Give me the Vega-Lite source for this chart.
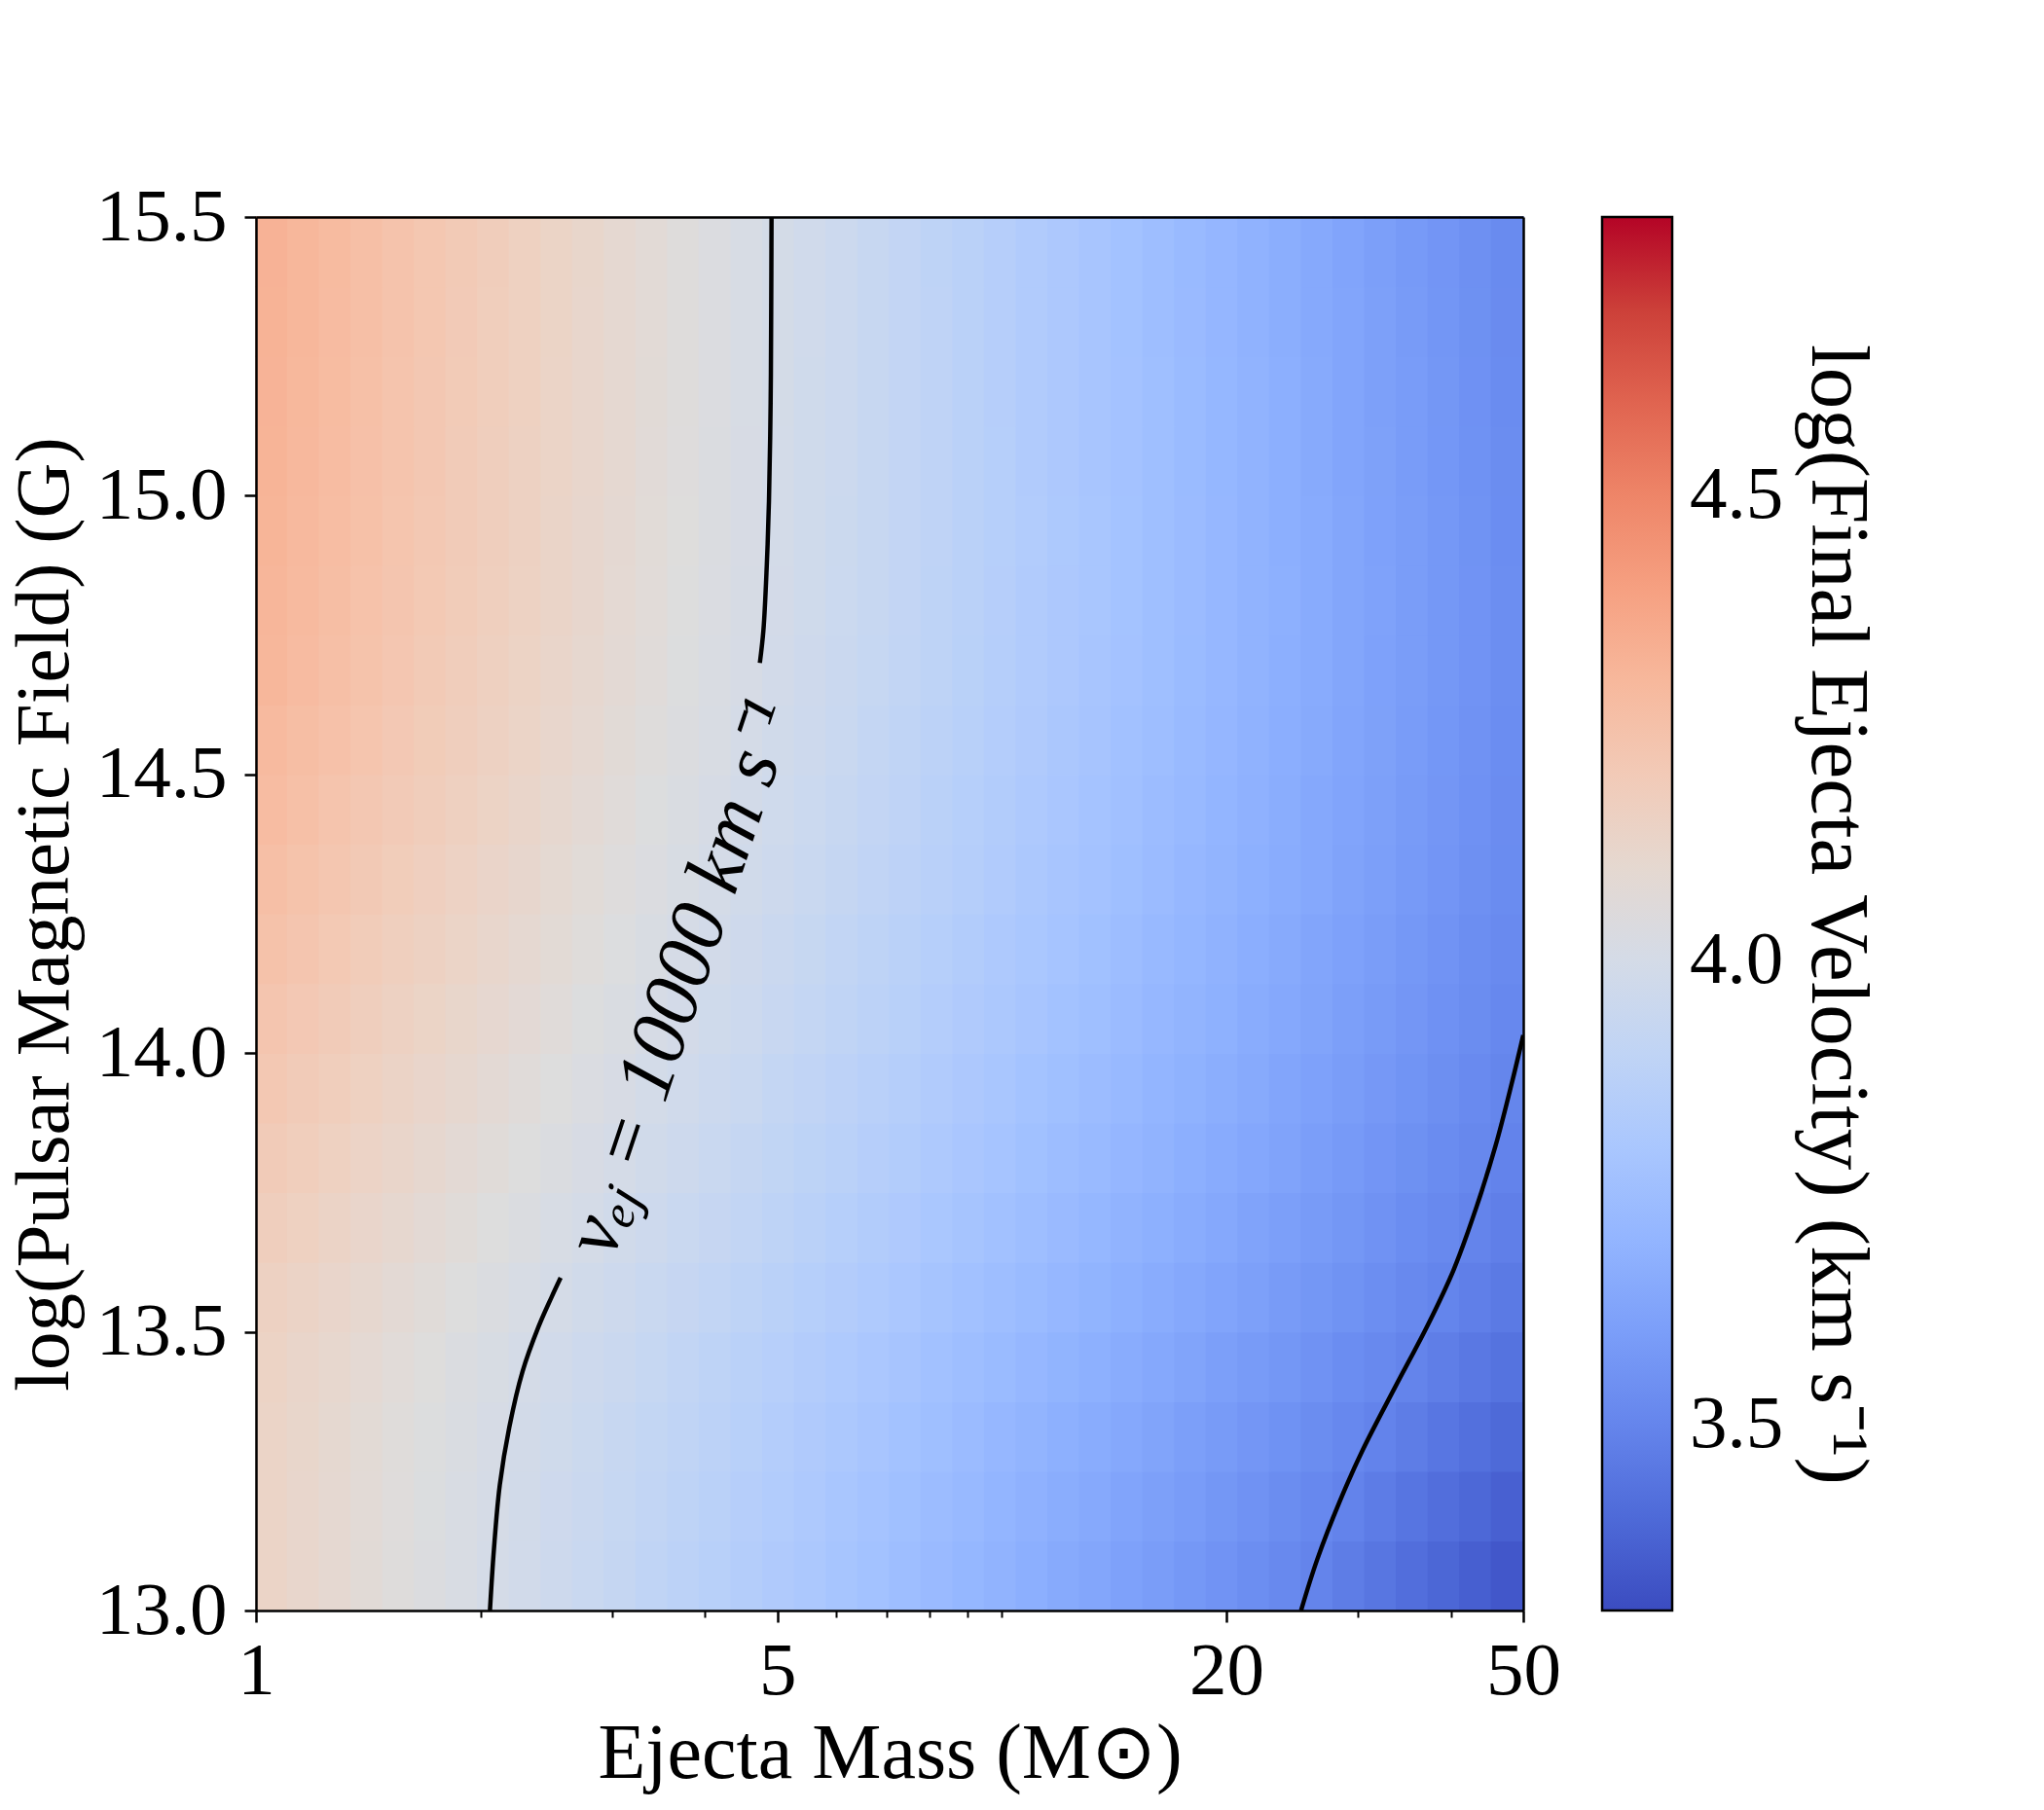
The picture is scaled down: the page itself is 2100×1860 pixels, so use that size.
{
"$schema":"https://vega.github.io/schema/vega-lite/v6.json",
"width":1302,"height":1432,
"autosize":{"type":"none"},
"padding":{"left":263,"top":223,"right":535,"bottom":205},
"background":"white",
"config":{"font":"Liberation Serif","view":{"stroke":null}},
"datasets":{
"grid":[
{"i":0,"j":0,"v":4.134},{"i":1,"j":0,"v":4.115},{"i":2,"j":0,"v":4.096},{"i":3,"j":0,"v":4.076},{"i":4,"j":0,"v":4.057},{"i":5,"j":0,"v":4.038},{"i":6,"j":0,"v":4.018},{"i":7,"j":0,"v":3.999},{"i":8,"j":0,"v":3.980},{"i":9,"j":0,"v":3.960},{"i":10,"j":0,"v":3.941},{"i":11,"j":0,"v":3.922},{"i":12,"j":0,"v":3.902},{"i":13,"j":0,"v":3.883},{"i":14,"j":0,"v":3.864},{"i":15,"j":0,"v":3.845},{"i":16,"j":0,"v":3.825},{"i":17,"j":0,"v":3.806},{"i":18,"j":0,"v":3.787},{"i":19,"j":0,"v":3.767},{"i":20,"j":0,"v":3.748},{"i":21,"j":0,"v":3.729},{"i":22,"j":0,"v":3.709},{"i":23,"j":0,"v":3.690},{"i":24,"j":0,"v":3.671},{"i":25,"j":0,"v":3.651},{"i":26,"j":0,"v":3.632},{"i":27,"j":0,"v":3.613},{"i":28,"j":0,"v":3.593},{"i":29,"j":0,"v":3.574},{"i":30,"j":0,"v":3.555},{"i":31,"j":0,"v":3.535},{"i":32,"j":0,"v":3.516},{"i":33,"j":0,"v":3.496},{"i":34,"j":0,"v":3.469},{"i":35,"j":0,"v":3.443},{"i":36,"j":0,"v":3.417},{"i":37,"j":0,"v":3.390},{"i":38,"j":0,"v":3.364},{"i":39,"j":0,"v":3.338},
{"i":0,"j":1,"v":4.134},{"i":1,"j":1,"v":4.116},{"i":2,"j":1,"v":4.097},{"i":3,"j":1,"v":4.078},{"i":4,"j":1,"v":4.059},{"i":5,"j":1,"v":4.040},{"i":6,"j":1,"v":4.021},{"i":7,"j":1,"v":4.002},{"i":8,"j":1,"v":3.984},{"i":9,"j":1,"v":3.965},{"i":10,"j":1,"v":3.946},{"i":11,"j":1,"v":3.927},{"i":12,"j":1,"v":3.908},{"i":13,"j":1,"v":3.889},{"i":14,"j":1,"v":3.870},{"i":15,"j":1,"v":3.852},{"i":16,"j":1,"v":3.833},{"i":17,"j":1,"v":3.814},{"i":18,"j":1,"v":3.795},{"i":19,"j":1,"v":3.776},{"i":20,"j":1,"v":3.757},{"i":21,"j":1,"v":3.738},{"i":22,"j":1,"v":3.720},{"i":23,"j":1,"v":3.701},{"i":24,"j":1,"v":3.682},{"i":25,"j":1,"v":3.663},{"i":26,"j":1,"v":3.644},{"i":27,"j":1,"v":3.625},{"i":28,"j":1,"v":3.607},{"i":29,"j":1,"v":3.588},{"i":30,"j":1,"v":3.569},{"i":31,"j":1,"v":3.550},{"i":32,"j":1,"v":3.531},{"i":33,"j":1,"v":3.512},{"i":34,"j":1,"v":3.491},{"i":35,"j":1,"v":3.467},{"i":36,"j":1,"v":3.442},{"i":37,"j":1,"v":3.417},{"i":38,"j":1,"v":3.393},{"i":39,"j":1,"v":3.368},
{"i":0,"j":2,"v":4.137},{"i":1,"j":2,"v":4.119},{"i":2,"j":2,"v":4.100},{"i":3,"j":2,"v":4.082},{"i":4,"j":2,"v":4.063},{"i":5,"j":2,"v":4.045},{"i":6,"j":2,"v":4.027},{"i":7,"j":2,"v":4.008},{"i":8,"j":2,"v":3.990},{"i":9,"j":2,"v":3.971},{"i":10,"j":2,"v":3.953},{"i":11,"j":2,"v":3.935},{"i":12,"j":2,"v":3.916},{"i":13,"j":2,"v":3.898},{"i":14,"j":2,"v":3.880},{"i":15,"j":2,"v":3.861},{"i":16,"j":2,"v":3.843},{"i":17,"j":2,"v":3.824},{"i":18,"j":2,"v":3.806},{"i":19,"j":2,"v":3.788},{"i":20,"j":2,"v":3.769},{"i":21,"j":2,"v":3.751},{"i":22,"j":2,"v":3.733},{"i":23,"j":2,"v":3.714},{"i":24,"j":2,"v":3.696},{"i":25,"j":2,"v":3.677},{"i":26,"j":2,"v":3.659},{"i":27,"j":2,"v":3.641},{"i":28,"j":2,"v":3.622},{"i":29,"j":2,"v":3.604},{"i":30,"j":2,"v":3.586},{"i":31,"j":2,"v":3.567},{"i":32,"j":2,"v":3.549},{"i":33,"j":2,"v":3.530},{"i":34,"j":2,"v":3.512},{"i":35,"j":2,"v":3.492},{"i":36,"j":2,"v":3.469},{"i":37,"j":2,"v":3.446},{"i":38,"j":2,"v":3.423},{"i":39,"j":2,"v":3.400},
{"i":0,"j":3,"v":4.143},{"i":1,"j":3,"v":4.125},{"i":2,"j":3,"v":4.107},{"i":3,"j":3,"v":4.089},{"i":4,"j":3,"v":4.071},{"i":5,"j":3,"v":4.053},{"i":6,"j":3,"v":4.035},{"i":7,"j":3,"v":4.017},{"i":8,"j":3,"v":3.999},{"i":9,"j":3,"v":3.981},{"i":10,"j":3,"v":3.963},{"i":11,"j":3,"v":3.945},{"i":12,"j":3,"v":3.928},{"i":13,"j":3,"v":3.910},{"i":14,"j":3,"v":3.892},{"i":15,"j":3,"v":3.874},{"i":16,"j":3,"v":3.856},{"i":17,"j":3,"v":3.838},{"i":18,"j":3,"v":3.820},{"i":19,"j":3,"v":3.802},{"i":20,"j":3,"v":3.784},{"i":21,"j":3,"v":3.766},{"i":22,"j":3,"v":3.748},{"i":23,"j":3,"v":3.730},{"i":24,"j":3,"v":3.712},{"i":25,"j":3,"v":3.694},{"i":26,"j":3,"v":3.676},{"i":27,"j":3,"v":3.658},{"i":28,"j":3,"v":3.640},{"i":29,"j":3,"v":3.622},{"i":30,"j":3,"v":3.604},{"i":31,"j":3,"v":3.586},{"i":32,"j":3,"v":3.568},{"i":33,"j":3,"v":3.550},{"i":34,"j":3,"v":3.532},{"i":35,"j":3,"v":3.514},{"i":36,"j":3,"v":3.496},{"i":37,"j":3,"v":3.474},{"i":38,"j":3,"v":3.453},{"i":39,"j":3,"v":3.432},
{"i":0,"j":4,"v":4.157},{"i":1,"j":4,"v":4.140},{"i":2,"j":4,"v":4.122},{"i":3,"j":4,"v":4.104},{"i":4,"j":4,"v":4.086},{"i":5,"j":4,"v":4.068},{"i":6,"j":4,"v":4.051},{"i":7,"j":4,"v":4.033},{"i":8,"j":4,"v":4.015},{"i":9,"j":4,"v":3.997},{"i":10,"j":4,"v":3.979},{"i":11,"j":4,"v":3.961},{"i":12,"j":4,"v":3.944},{"i":13,"j":4,"v":3.926},{"i":14,"j":4,"v":3.908},{"i":15,"j":4,"v":3.890},{"i":16,"j":4,"v":3.872},{"i":17,"j":4,"v":3.855},{"i":18,"j":4,"v":3.837},{"i":19,"j":4,"v":3.819},{"i":20,"j":4,"v":3.801},{"i":21,"j":4,"v":3.783},{"i":22,"j":4,"v":3.765},{"i":23,"j":4,"v":3.748},{"i":24,"j":4,"v":3.730},{"i":25,"j":4,"v":3.712},{"i":26,"j":4,"v":3.694},{"i":27,"j":4,"v":3.676},{"i":28,"j":4,"v":3.659},{"i":29,"j":4,"v":3.641},{"i":30,"j":4,"v":3.623},{"i":31,"j":4,"v":3.605},{"i":32,"j":4,"v":3.587},{"i":33,"j":4,"v":3.569},{"i":34,"j":4,"v":3.552},{"i":35,"j":4,"v":3.534},{"i":36,"j":4,"v":3.516},{"i":37,"j":4,"v":3.498},{"i":38,"j":4,"v":3.478},{"i":39,"j":4,"v":3.458},
{"i":0,"j":5,"v":4.176},{"i":1,"j":5,"v":4.158},{"i":2,"j":5,"v":4.140},{"i":3,"j":5,"v":4.122},{"i":4,"j":5,"v":4.104},{"i":5,"j":5,"v":4.086},{"i":6,"j":5,"v":4.069},{"i":7,"j":5,"v":4.051},{"i":8,"j":5,"v":4.033},{"i":9,"j":5,"v":4.015},{"i":10,"j":5,"v":3.997},{"i":11,"j":5,"v":3.979},{"i":12,"j":5,"v":3.961},{"i":13,"j":5,"v":3.943},{"i":14,"j":5,"v":3.926},{"i":15,"j":5,"v":3.908},{"i":16,"j":5,"v":3.890},{"i":17,"j":5,"v":3.872},{"i":18,"j":5,"v":3.854},{"i":19,"j":5,"v":3.836},{"i":20,"j":5,"v":3.818},{"i":21,"j":5,"v":3.800},{"i":22,"j":5,"v":3.782},{"i":23,"j":5,"v":3.765},{"i":24,"j":5,"v":3.747},{"i":25,"j":5,"v":3.729},{"i":26,"j":5,"v":3.711},{"i":27,"j":5,"v":3.693},{"i":28,"j":5,"v":3.675},{"i":29,"j":5,"v":3.657},{"i":30,"j":5,"v":3.639},{"i":31,"j":5,"v":3.621},{"i":32,"j":5,"v":3.604},{"i":33,"j":5,"v":3.586},{"i":34,"j":5,"v":3.568},{"i":35,"j":5,"v":3.550},{"i":36,"j":5,"v":3.532},{"i":37,"j":5,"v":3.514},{"i":38,"j":5,"v":3.496},{"i":39,"j":5,"v":3.477},
{"i":0,"j":6,"v":4.195},{"i":1,"j":6,"v":4.177},{"i":2,"j":6,"v":4.159},{"i":3,"j":6,"v":4.141},{"i":4,"j":6,"v":4.123},{"i":5,"j":6,"v":4.105},{"i":6,"j":6,"v":4.087},{"i":7,"j":6,"v":4.069},{"i":8,"j":6,"v":4.051},{"i":9,"j":6,"v":4.032},{"i":10,"j":6,"v":4.014},{"i":11,"j":6,"v":3.996},{"i":12,"j":6,"v":3.978},{"i":13,"j":6,"v":3.960},{"i":14,"j":6,"v":3.942},{"i":15,"j":6,"v":3.924},{"i":16,"j":6,"v":3.906},{"i":17,"j":6,"v":3.888},{"i":18,"j":6,"v":3.870},{"i":19,"j":6,"v":3.852},{"i":20,"j":6,"v":3.834},{"i":21,"j":6,"v":3.816},{"i":22,"j":6,"v":3.798},{"i":23,"j":6,"v":3.780},{"i":24,"j":6,"v":3.762},{"i":25,"j":6,"v":3.744},{"i":26,"j":6,"v":3.726},{"i":27,"j":6,"v":3.708},{"i":28,"j":6,"v":3.690},{"i":29,"j":6,"v":3.672},{"i":30,"j":6,"v":3.654},{"i":31,"j":6,"v":3.636},{"i":32,"j":6,"v":3.618},{"i":33,"j":6,"v":3.599},{"i":34,"j":6,"v":3.581},{"i":35,"j":6,"v":3.563},{"i":36,"j":6,"v":3.545},{"i":37,"j":6,"v":3.527},{"i":38,"j":6,"v":3.509},{"i":39,"j":6,"v":3.491},
{"i":0,"j":7,"v":4.213},{"i":1,"j":7,"v":4.195},{"i":2,"j":7,"v":4.177},{"i":3,"j":7,"v":4.159},{"i":4,"j":7,"v":4.140},{"i":5,"j":7,"v":4.122},{"i":6,"j":7,"v":4.104},{"i":7,"j":7,"v":4.086},{"i":8,"j":7,"v":4.067},{"i":9,"j":7,"v":4.049},{"i":10,"j":7,"v":4.031},{"i":11,"j":7,"v":4.013},{"i":12,"j":7,"v":3.994},{"i":13,"j":7,"v":3.976},{"i":14,"j":7,"v":3.958},{"i":15,"j":7,"v":3.940},{"i":16,"j":7,"v":3.921},{"i":17,"j":7,"v":3.903},{"i":18,"j":7,"v":3.885},{"i":19,"j":7,"v":3.867},{"i":20,"j":7,"v":3.848},{"i":21,"j":7,"v":3.830},{"i":22,"j":7,"v":3.812},{"i":23,"j":7,"v":3.794},{"i":24,"j":7,"v":3.775},{"i":25,"j":7,"v":3.757},{"i":26,"j":7,"v":3.739},{"i":27,"j":7,"v":3.721},{"i":28,"j":7,"v":3.702},{"i":29,"j":7,"v":3.684},{"i":30,"j":7,"v":3.666},{"i":31,"j":7,"v":3.648},{"i":32,"j":7,"v":3.630},{"i":33,"j":7,"v":3.611},{"i":34,"j":7,"v":3.593},{"i":35,"j":7,"v":3.575},{"i":36,"j":7,"v":3.557},{"i":37,"j":7,"v":3.538},{"i":38,"j":7,"v":3.520},{"i":39,"j":7,"v":3.502},
{"i":0,"j":8,"v":4.231},{"i":1,"j":8,"v":4.212},{"i":2,"j":8,"v":4.194},{"i":3,"j":8,"v":4.176},{"i":4,"j":8,"v":4.157},{"i":5,"j":8,"v":4.139},{"i":6,"j":8,"v":4.120},{"i":7,"j":8,"v":4.102},{"i":8,"j":8,"v":4.083},{"i":9,"j":8,"v":4.065},{"i":10,"j":8,"v":4.046},{"i":11,"j":8,"v":4.028},{"i":12,"j":8,"v":4.010},{"i":13,"j":8,"v":3.991},{"i":14,"j":8,"v":3.973},{"i":15,"j":8,"v":3.954},{"i":16,"j":8,"v":3.936},{"i":17,"j":8,"v":3.917},{"i":18,"j":8,"v":3.899},{"i":19,"j":8,"v":3.880},{"i":20,"j":8,"v":3.862},{"i":21,"j":8,"v":3.844},{"i":22,"j":8,"v":3.825},{"i":23,"j":8,"v":3.807},{"i":24,"j":8,"v":3.788},{"i":25,"j":8,"v":3.770},{"i":26,"j":8,"v":3.751},{"i":27,"j":8,"v":3.733},{"i":28,"j":8,"v":3.714},{"i":29,"j":8,"v":3.696},{"i":30,"j":8,"v":3.678},{"i":31,"j":8,"v":3.659},{"i":32,"j":8,"v":3.641},{"i":33,"j":8,"v":3.622},{"i":34,"j":8,"v":3.604},{"i":35,"j":8,"v":3.585},{"i":36,"j":8,"v":3.567},{"i":37,"j":8,"v":3.548},{"i":38,"j":8,"v":3.530},{"i":39,"j":8,"v":3.512},
{"i":0,"j":9,"v":4.248},{"i":1,"j":9,"v":4.229},{"i":2,"j":9,"v":4.211},{"i":3,"j":9,"v":4.192},{"i":4,"j":9,"v":4.173},{"i":5,"j":9,"v":4.154},{"i":6,"j":9,"v":4.136},{"i":7,"j":9,"v":4.117},{"i":8,"j":9,"v":4.098},{"i":9,"j":9,"v":4.080},{"i":10,"j":9,"v":4.061},{"i":11,"j":9,"v":4.042},{"i":12,"j":9,"v":4.023},{"i":13,"j":9,"v":4.005},{"i":14,"j":9,"v":3.986},{"i":15,"j":9,"v":3.967},{"i":16,"j":9,"v":3.948},{"i":17,"j":9,"v":3.930},{"i":18,"j":9,"v":3.911},{"i":19,"j":9,"v":3.892},{"i":20,"j":9,"v":3.874},{"i":21,"j":9,"v":3.855},{"i":22,"j":9,"v":3.836},{"i":23,"j":9,"v":3.817},{"i":24,"j":9,"v":3.799},{"i":25,"j":9,"v":3.780},{"i":26,"j":9,"v":3.761},{"i":27,"j":9,"v":3.742},{"i":28,"j":9,"v":3.724},{"i":29,"j":9,"v":3.705},{"i":30,"j":9,"v":3.686},{"i":31,"j":9,"v":3.668},{"i":32,"j":9,"v":3.649},{"i":33,"j":9,"v":3.630},{"i":34,"j":9,"v":3.611},{"i":35,"j":9,"v":3.593},{"i":36,"j":9,"v":3.574},{"i":37,"j":9,"v":3.555},{"i":38,"j":9,"v":3.536},{"i":39,"j":9,"v":3.518},
{"i":0,"j":10,"v":4.262},{"i":1,"j":10,"v":4.244},{"i":2,"j":10,"v":4.225},{"i":3,"j":10,"v":4.206},{"i":4,"j":10,"v":4.187},{"i":5,"j":10,"v":4.168},{"i":6,"j":10,"v":4.149},{"i":7,"j":10,"v":4.130},{"i":8,"j":10,"v":4.111},{"i":9,"j":10,"v":4.092},{"i":10,"j":10,"v":4.073},{"i":11,"j":10,"v":4.055},{"i":12,"j":10,"v":4.036},{"i":13,"j":10,"v":4.017},{"i":14,"j":10,"v":3.998},{"i":15,"j":10,"v":3.979},{"i":16,"j":10,"v":3.960},{"i":17,"j":10,"v":3.941},{"i":18,"j":10,"v":3.922},{"i":19,"j":10,"v":3.903},{"i":20,"j":10,"v":3.884},{"i":21,"j":10,"v":3.866},{"i":22,"j":10,"v":3.847},{"i":23,"j":10,"v":3.828},{"i":24,"j":10,"v":3.809},{"i":25,"j":10,"v":3.790},{"i":26,"j":10,"v":3.771},{"i":27,"j":10,"v":3.752},{"i":28,"j":10,"v":3.733},{"i":29,"j":10,"v":3.714},{"i":30,"j":10,"v":3.695},{"i":31,"j":10,"v":3.677},{"i":32,"j":10,"v":3.658},{"i":33,"j":10,"v":3.639},{"i":34,"j":10,"v":3.620},{"i":35,"j":10,"v":3.601},{"i":36,"j":10,"v":3.582},{"i":37,"j":10,"v":3.563},{"i":38,"j":10,"v":3.544},{"i":39,"j":10,"v":3.525},
{"i":0,"j":11,"v":4.277},{"i":1,"j":11,"v":4.258},{"i":2,"j":11,"v":4.239},{"i":3,"j":11,"v":4.219},{"i":4,"j":11,"v":4.200},{"i":5,"j":11,"v":4.181},{"i":6,"j":11,"v":4.162},{"i":7,"j":11,"v":4.143},{"i":8,"j":11,"v":4.123},{"i":9,"j":11,"v":4.104},{"i":10,"j":11,"v":4.085},{"i":11,"j":11,"v":4.066},{"i":12,"j":11,"v":4.047},{"i":13,"j":11,"v":4.027},{"i":14,"j":11,"v":4.008},{"i":15,"j":11,"v":3.989},{"i":16,"j":11,"v":3.970},{"i":17,"j":11,"v":3.951},{"i":18,"j":11,"v":3.931},{"i":19,"j":11,"v":3.912},{"i":20,"j":11,"v":3.893},{"i":21,"j":11,"v":3.874},{"i":22,"j":11,"v":3.855},{"i":23,"j":11,"v":3.835},{"i":24,"j":11,"v":3.816},{"i":25,"j":11,"v":3.797},{"i":26,"j":11,"v":3.778},{"i":27,"j":11,"v":3.759},{"i":28,"j":11,"v":3.739},{"i":29,"j":11,"v":3.720},{"i":30,"j":11,"v":3.701},{"i":31,"j":11,"v":3.682},{"i":32,"j":11,"v":3.663},{"i":33,"j":11,"v":3.643},{"i":34,"j":11,"v":3.624},{"i":35,"j":11,"v":3.605},{"i":36,"j":11,"v":3.586},{"i":37,"j":11,"v":3.567},{"i":38,"j":11,"v":3.547},{"i":39,"j":11,"v":3.528},
{"i":0,"j":12,"v":4.290},{"i":1,"j":12,"v":4.271},{"i":2,"j":12,"v":4.251},{"i":3,"j":12,"v":4.232},{"i":4,"j":12,"v":4.212},{"i":5,"j":12,"v":4.193},{"i":6,"j":12,"v":4.174},{"i":7,"j":12,"v":4.154},{"i":8,"j":12,"v":4.135},{"i":9,"j":12,"v":4.115},{"i":10,"j":12,"v":4.096},{"i":11,"j":12,"v":4.076},{"i":12,"j":12,"v":4.057},{"i":13,"j":12,"v":4.037},{"i":14,"j":12,"v":4.018},{"i":15,"j":12,"v":3.998},{"i":16,"j":12,"v":3.979},{"i":17,"j":12,"v":3.960},{"i":18,"j":12,"v":3.940},{"i":19,"j":12,"v":3.921},{"i":20,"j":12,"v":3.901},{"i":21,"j":12,"v":3.882},{"i":22,"j":12,"v":3.862},{"i":23,"j":12,"v":3.843},{"i":24,"j":12,"v":3.823},{"i":25,"j":12,"v":3.804},{"i":26,"j":12,"v":3.784},{"i":27,"j":12,"v":3.765},{"i":28,"j":12,"v":3.746},{"i":29,"j":12,"v":3.726},{"i":30,"j":12,"v":3.707},{"i":31,"j":12,"v":3.687},{"i":32,"j":12,"v":3.668},{"i":33,"j":12,"v":3.648},{"i":34,"j":12,"v":3.629},{"i":35,"j":12,"v":3.609},{"i":36,"j":12,"v":3.590},{"i":37,"j":12,"v":3.570},{"i":38,"j":12,"v":3.551},{"i":39,"j":12,"v":3.532},
{"i":0,"j":13,"v":4.302},{"i":1,"j":13,"v":4.282},{"i":2,"j":13,"v":4.262},{"i":3,"j":13,"v":4.243},{"i":4,"j":13,"v":4.223},{"i":5,"j":13,"v":4.203},{"i":6,"j":13,"v":4.184},{"i":7,"j":13,"v":4.164},{"i":8,"j":13,"v":4.144},{"i":9,"j":13,"v":4.125},{"i":10,"j":13,"v":4.105},{"i":11,"j":13,"v":4.085},{"i":12,"j":13,"v":4.066},{"i":13,"j":13,"v":4.046},{"i":14,"j":13,"v":4.026},{"i":15,"j":13,"v":4.007},{"i":16,"j":13,"v":3.987},{"i":17,"j":13,"v":3.967},{"i":18,"j":13,"v":3.948},{"i":19,"j":13,"v":3.928},{"i":20,"j":13,"v":3.908},{"i":21,"j":13,"v":3.889},{"i":22,"j":13,"v":3.869},{"i":23,"j":13,"v":3.849},{"i":24,"j":13,"v":3.830},{"i":25,"j":13,"v":3.810},{"i":26,"j":13,"v":3.790},{"i":27,"j":13,"v":3.771},{"i":28,"j":13,"v":3.751},{"i":29,"j":13,"v":3.731},{"i":30,"j":13,"v":3.712},{"i":31,"j":13,"v":3.692},{"i":32,"j":13,"v":3.672},{"i":33,"j":13,"v":3.653},{"i":34,"j":13,"v":3.633},{"i":35,"j":13,"v":3.613},{"i":36,"j":13,"v":3.594},{"i":37,"j":13,"v":3.574},{"i":38,"j":13,"v":3.554},{"i":39,"j":13,"v":3.535},
{"i":0,"j":14,"v":4.309},{"i":1,"j":14,"v":4.290},{"i":2,"j":14,"v":4.270},{"i":3,"j":14,"v":4.250},{"i":4,"j":14,"v":4.230},{"i":5,"j":14,"v":4.210},{"i":6,"j":14,"v":4.190},{"i":7,"j":14,"v":4.170},{"i":8,"j":14,"v":4.150},{"i":9,"j":14,"v":4.131},{"i":10,"j":14,"v":4.111},{"i":11,"j":14,"v":4.091},{"i":12,"j":14,"v":4.071},{"i":13,"j":14,"v":4.051},{"i":14,"j":14,"v":4.031},{"i":15,"j":14,"v":4.011},{"i":16,"j":14,"v":3.991},{"i":17,"j":14,"v":3.971},{"i":18,"j":14,"v":3.952},{"i":19,"j":14,"v":3.932},{"i":20,"j":14,"v":3.912},{"i":21,"j":14,"v":3.892},{"i":22,"j":14,"v":3.872},{"i":23,"j":14,"v":3.852},{"i":24,"j":14,"v":3.832},{"i":25,"j":14,"v":3.812},{"i":26,"j":14,"v":3.793},{"i":27,"j":14,"v":3.773},{"i":28,"j":14,"v":3.753},{"i":29,"j":14,"v":3.733},{"i":30,"j":14,"v":3.713},{"i":31,"j":14,"v":3.693},{"i":32,"j":14,"v":3.673},{"i":33,"j":14,"v":3.653},{"i":34,"j":14,"v":3.634},{"i":35,"j":14,"v":3.614},{"i":36,"j":14,"v":3.594},{"i":37,"j":14,"v":3.574},{"i":38,"j":14,"v":3.554},{"i":39,"j":14,"v":3.534},
{"i":0,"j":15,"v":4.314},{"i":1,"j":15,"v":4.294},{"i":2,"j":15,"v":4.274},{"i":3,"j":15,"v":4.254},{"i":4,"j":15,"v":4.234},{"i":5,"j":15,"v":4.214},{"i":6,"j":15,"v":4.194},{"i":7,"j":15,"v":4.174},{"i":8,"j":15,"v":4.154},{"i":9,"j":15,"v":4.133},{"i":10,"j":15,"v":4.113},{"i":11,"j":15,"v":4.093},{"i":12,"j":15,"v":4.073},{"i":13,"j":15,"v":4.053},{"i":14,"j":15,"v":4.033},{"i":15,"j":15,"v":4.013},{"i":16,"j":15,"v":3.993},{"i":17,"j":15,"v":3.973},{"i":18,"j":15,"v":3.953},{"i":19,"j":15,"v":3.933},{"i":20,"j":15,"v":3.913},{"i":21,"j":15,"v":3.893},{"i":22,"j":15,"v":3.873},{"i":23,"j":15,"v":3.853},{"i":24,"j":15,"v":3.833},{"i":25,"j":15,"v":3.813},{"i":26,"j":15,"v":3.793},{"i":27,"j":15,"v":3.773},{"i":28,"j":15,"v":3.753},{"i":29,"j":15,"v":3.733},{"i":30,"j":15,"v":3.712},{"i":31,"j":15,"v":3.692},{"i":32,"j":15,"v":3.672},{"i":33,"j":15,"v":3.652},{"i":34,"j":15,"v":3.632},{"i":35,"j":15,"v":3.612},{"i":36,"j":15,"v":3.592},{"i":37,"j":15,"v":3.572},{"i":38,"j":15,"v":3.552},{"i":39,"j":15,"v":3.532},
{"i":0,"j":16,"v":4.318},{"i":1,"j":16,"v":4.297},{"i":2,"j":16,"v":4.277},{"i":3,"j":16,"v":4.257},{"i":4,"j":16,"v":4.237},{"i":5,"j":16,"v":4.217},{"i":6,"j":16,"v":4.196},{"i":7,"j":16,"v":4.176},{"i":8,"j":16,"v":4.156},{"i":9,"j":16,"v":4.136},{"i":10,"j":16,"v":4.116},{"i":11,"j":16,"v":4.095},{"i":12,"j":16,"v":4.075},{"i":13,"j":16,"v":4.055},{"i":14,"j":16,"v":4.035},{"i":15,"j":16,"v":4.014},{"i":16,"j":16,"v":3.994},{"i":17,"j":16,"v":3.974},{"i":18,"j":16,"v":3.954},{"i":19,"j":16,"v":3.934},{"i":20,"j":16,"v":3.913},{"i":21,"j":16,"v":3.893},{"i":22,"j":16,"v":3.873},{"i":23,"j":16,"v":3.853},{"i":24,"j":16,"v":3.832},{"i":25,"j":16,"v":3.812},{"i":26,"j":16,"v":3.792},{"i":27,"j":16,"v":3.772},{"i":28,"j":16,"v":3.752},{"i":29,"j":16,"v":3.731},{"i":30,"j":16,"v":3.711},{"i":31,"j":16,"v":3.691},{"i":32,"j":16,"v":3.671},{"i":33,"j":16,"v":3.650},{"i":34,"j":16,"v":3.630},{"i":35,"j":16,"v":3.610},{"i":36,"j":16,"v":3.590},{"i":37,"j":16,"v":3.570},{"i":38,"j":16,"v":3.549},{"i":39,"j":16,"v":3.529},
{"i":0,"j":17,"v":4.320},{"i":1,"j":17,"v":4.300},{"i":2,"j":17,"v":4.280},{"i":3,"j":17,"v":4.259},{"i":4,"j":17,"v":4.239},{"i":5,"j":17,"v":4.219},{"i":6,"j":17,"v":4.198},{"i":7,"j":17,"v":4.178},{"i":8,"j":17,"v":4.158},{"i":9,"j":17,"v":4.137},{"i":10,"j":17,"v":4.117},{"i":11,"j":17,"v":4.097},{"i":12,"j":17,"v":4.076},{"i":13,"j":17,"v":4.056},{"i":14,"j":17,"v":4.036},{"i":15,"j":17,"v":4.015},{"i":16,"j":17,"v":3.995},{"i":17,"j":17,"v":3.974},{"i":18,"j":17,"v":3.954},{"i":19,"j":17,"v":3.934},{"i":20,"j":17,"v":3.913},{"i":21,"j":17,"v":3.893},{"i":22,"j":17,"v":3.873},{"i":23,"j":17,"v":3.852},{"i":24,"j":17,"v":3.832},{"i":25,"j":17,"v":3.812},{"i":26,"j":17,"v":3.791},{"i":27,"j":17,"v":3.771},{"i":28,"j":17,"v":3.751},{"i":29,"j":17,"v":3.730},{"i":30,"j":17,"v":3.710},{"i":31,"j":17,"v":3.690},{"i":32,"j":17,"v":3.669},{"i":33,"j":17,"v":3.649},{"i":34,"j":17,"v":3.629},{"i":35,"j":17,"v":3.608},{"i":36,"j":17,"v":3.588},{"i":37,"j":17,"v":3.568},{"i":38,"j":17,"v":3.547},{"i":39,"j":17,"v":3.527},
{"i":0,"j":18,"v":4.323},{"i":1,"j":18,"v":4.302},{"i":2,"j":18,"v":4.282},{"i":3,"j":18,"v":4.261},{"i":4,"j":18,"v":4.241},{"i":5,"j":18,"v":4.220},{"i":6,"j":18,"v":4.200},{"i":7,"j":18,"v":4.179},{"i":8,"j":18,"v":4.159},{"i":9,"j":18,"v":4.138},{"i":10,"j":18,"v":4.118},{"i":11,"j":18,"v":4.097},{"i":12,"j":18,"v":4.077},{"i":13,"j":18,"v":4.056},{"i":14,"j":18,"v":4.036},{"i":15,"j":18,"v":4.016},{"i":16,"j":18,"v":3.995},{"i":17,"j":18,"v":3.975},{"i":18,"j":18,"v":3.954},{"i":19,"j":18,"v":3.934},{"i":20,"j":18,"v":3.913},{"i":21,"j":18,"v":3.893},{"i":22,"j":18,"v":3.872},{"i":23,"j":18,"v":3.852},{"i":24,"j":18,"v":3.831},{"i":25,"j":18,"v":3.811},{"i":26,"j":18,"v":3.790},{"i":27,"j":18,"v":3.770},{"i":28,"j":18,"v":3.749},{"i":29,"j":18,"v":3.729},{"i":30,"j":18,"v":3.708},{"i":31,"j":18,"v":3.688},{"i":32,"j":18,"v":3.667},{"i":33,"j":18,"v":3.647},{"i":34,"j":18,"v":3.627},{"i":35,"j":18,"v":3.606},{"i":36,"j":18,"v":3.586},{"i":37,"j":18,"v":3.565},{"i":38,"j":18,"v":3.545},{"i":39,"j":18,"v":3.524},
{"i":0,"j":19,"v":4.325},{"i":1,"j":19,"v":4.304},{"i":2,"j":19,"v":4.284},{"i":3,"j":19,"v":4.263},{"i":4,"j":19,"v":4.242},{"i":5,"j":19,"v":4.222},{"i":6,"j":19,"v":4.201},{"i":7,"j":19,"v":4.181},{"i":8,"j":19,"v":4.160},{"i":9,"j":19,"v":4.139},{"i":10,"j":19,"v":4.119},{"i":11,"j":19,"v":4.098},{"i":12,"j":19,"v":4.078},{"i":13,"j":19,"v":4.057},{"i":14,"j":19,"v":4.036},{"i":15,"j":19,"v":4.016},{"i":16,"j":19,"v":3.995},{"i":17,"j":19,"v":3.975},{"i":18,"j":19,"v":3.954},{"i":19,"j":19,"v":3.933},{"i":20,"j":19,"v":3.913},{"i":21,"j":19,"v":3.892},{"i":22,"j":19,"v":3.872},{"i":23,"j":19,"v":3.851},{"i":24,"j":19,"v":3.830},{"i":25,"j":19,"v":3.810},{"i":26,"j":19,"v":3.789},{"i":27,"j":19,"v":3.769},{"i":28,"j":19,"v":3.748},{"i":29,"j":19,"v":3.727},{"i":30,"j":19,"v":3.707},{"i":31,"j":19,"v":3.686},{"i":32,"j":19,"v":3.666},{"i":33,"j":19,"v":3.645},{"i":34,"j":19,"v":3.624},{"i":35,"j":19,"v":3.604},{"i":36,"j":19,"v":3.583},{"i":37,"j":19,"v":3.563},{"i":38,"j":19,"v":3.542},{"i":39,"j":19,"v":3.521}
],
"contours":[
{"lev":4,"seg":"a","m":2.059,"b":13.0},{"lev":4,"seg":"a","m":2.084,"b":13.108},{"lev":4,"seg":"a","m":2.122,"b":13.224},{"lev":4,"seg":"a","m":2.186,"b":13.329},{"lev":4,"seg":"a","m":2.276,"b":13.428},{"lev":4,"seg":"a","m":2.392,"b":13.509},{"lev":4,"seg":"a","m":2.490,"b":13.562},{"lev":4,"seg":"a","m":2.561,"b":13.597},
{"lev":4,"seg":"b","m":4.737,"b":14.700},{"lev":4,"seg":"b","m":4.789,"b":14.758},{"lev":4,"seg":"b","m":4.839,"b":14.874},{"lev":4,"seg":"b","m":4.872,"b":14.990},{"lev":4,"seg":"b","m":4.897,"b":15.165},{"lev":4,"seg":"b","m":4.906,"b":15.339},{"lev":4,"seg":"b","m":4.911,"b":15.5},
{"lev":3.5,"seg":"c","m":25.18,"b":13.0},{"lev":3.5,"seg":"c","m":26.46,"b":13.091},{"lev":3.5,"seg":"c","m":28.40,"b":13.197},{"lev":3.5,"seg":"c","m":30.46,"b":13.288},{"lev":3.5,"seg":"c","m":33.64,"b":13.40},{"lev":3.5,"seg":"c","m":37.23,"b":13.512},{"lev":3.5,"seg":"c","m":40.32,"b":13.611},{"lev":3.5,"seg":"c","m":43.25,"b":13.723},{"lev":3.5,"seg":"c","m":45.93,"b":13.835},{"lev":3.5,"seg":"c","m":48.28,"b":13.947},{"lev":3.5,"seg":"c","m":50.0,"b":14.032}
],
"label":[{"m":3.718,"b":14.135,"t":"vₑⱼ = 10000 km s⁻¹"}]
},
"layer":[
{"data":{"name":"grid"},
 "mark":{"type":"rect","width":34,"height":73},
 "encoding":{
  "x":{"field":"i","type":"ordinal","scale":{"type":"band","paddingInner":0,"paddingOuter":0},"axis":null},
  "y":{"field":"j","type":"ordinal","sort":"descending","scale":{"type":"band","paddingInner":0,"paddingOuter":0},"axis":null},
  "color":{"field":"v","type":"quantitative",
   "scale":{"type":"linear","interpolate":"rgb","clamp":true,
    "domain":[3.3,3.346875,3.39375,3.440625,3.4875,3.534375,3.58125,3.628125,3.675,3.721875,3.76875,3.815625,3.8625,3.909375,3.95625,4.003125,4.05,4.096875,4.14375,4.190625,4.2375,4.284375,4.33125,4.378125,4.425,4.471875,4.51875,4.565625,4.6125,4.659375,4.70625,4.753125,4.8],
    "range":["#3b4cc0","#445acc","#4d68d7","#5775e1","#6282ea","#6c8ef1","#779af7","#82a5fb","#8db0fe","#98b9ff","#a3c2ff","#aec9fd","#b8d0f9","#c2d5f4","#ccd9ee","#d5dbe6","#dddddd","#e5d8d1","#ecd3c5","#f1ccb9","#f5c4ad","#f7bba0","#f7b194","#f7a687","#f49a7b","#f18d6f","#ec7f63","#e57058","#de604d","#d55042","#cb3e38","#c0282f","#b40426"]},
   "legend":{"type":"gradient","orient":"none","legendX":1383,"legendY":0,"direction":"vertical","padding":0,
    "gradientLength":1432,"gradientThickness":72,"gradientStrokeColor":"black","gradientStrokeWidth":2.5,
    "values":[3.5,4.0,4.5],"format":".1f","labelFontSize":77,"labelFont":"Liberation Serif","labelColor":"black","labelOffset":18,"labelOverlap":false,"labelLimit":0,
    "title":"log(Final Ejecta Velocity) (km s⁻¹)","titleLimit":3000,"titleOrient":"right","titleAngle":90,"titleAnchor":"middle","titleBaseline":"bottom","titleFontSize":85,"titleFont":"Liberation Serif","titleFontWeight":"normal","titleColor":"black","titlePadding":12}}
 }},
{"data":{"name":"contours"},
 "transform":[{"filter":"datum.lev == 4"}],
 "mark":{"type":"line","color":"black","strokeWidth":4.5,"interpolate":"catmull-rom","clip":true},
 "encoding":{
  "x":{"field":"m","type":"quantitative","scale":{"type":"log","domain":[1,50],"nice":false},
   "axis":{"orient":"bottom","values":[1,5,20,50],"format":"d","title":"Ejecta Mass (M⊙)","grid":false,"domain":true,"domainColor":"black","domainWidth":2.5,"ticks":true,"tickSize":12,"tickWidth":2.5,"tickColor":"black","labelFontSize":77,"labelFont":"Liberation Serif","labelColor":"black","labelPadding":12,"labelFlush":false,"labelOverlap":false,"labelBound":false,"titleFontSize":80,"titleFont":"Liberation Serif","titleFontWeight":"normal","titleColor":"black","titlePadding":8,"zindex":1}},
  "y":{"field":"b","type":"quantitative","scale":{"domain":[13,15.5],"nice":false,"zero":false},
   "axis":{"orient":"left","values":[13,13.5,14,14.5,15,15.5],"format":".1f","title":"log(Pulsar Magnetic Field) (G)","grid":false,"domain":true,"domainColor":"black","domainWidth":2.5,"ticks":true,"tickSize":12,"tickWidth":2.5,"tickColor":"black","labelFontSize":77,"labelFont":"Liberation Serif","labelColor":"black","labelPadding":18,"labelFlush":false,"labelOverlap":false,"labelBound":false,"titleFontSize":79,"titleFont":"Liberation Serif","titleFontWeight":"normal","titleColor":"black","titlePadding":12,"zindex":1}},
  "detail":{"field":"seg"},
  "order":{"field":"b","type":"quantitative"}
 }},
{"data":{"name":"contours"},
 "transform":[{"filter":"datum.lev == 3.5"}],
 "mark":{"type":"line","color":"black","strokeWidth":4.5,"interpolate":"catmull-rom","clip":true},
 "encoding":{
  "x":{"field":"m","type":"quantitative","scale":{"type":"log","domain":[1,50],"nice":false},
   "axis":{"orient":"bottom","values":[2,3,4,6,7,8,9,10,30,40],"labels":false,"domain":false,"grid":false,"title":null,"ticks":true,"tickSize":7,"tickWidth":2,"tickColor":"black","zindex":1}},
  "y":{"field":"b","type":"quantitative","scale":{"domain":[13,15.5],"nice":false,"zero":false},
   "axis":{"orient":"right","labels":false,"ticks":false,"grid":false,"title":null,"domain":true,"domainColor":"black","domainWidth":2.5,"zindex":1}},
  "detail":{"field":"seg"},
  "order":{"field":"b","type":"quantitative"}
 }},
{"data":{"name":"label"},
 "mark":{"type":"text","angle":288.5,"fontSize":82,"fontStyle":"italic","font":"Liberation Serif","align":"center","baseline":"middle","color":"black"},
 "encoding":{
  "x":{"field":"m","type":"quantitative","scale":{"type":"log","domain":[1,50],"nice":false},
   "axis":{"orient":"top","labels":false,"ticks":false,"grid":false,"title":null,"domain":true,"domainColor":"black","domainWidth":2.5,"zindex":1}},
  "y":{"field":"b","type":"quantitative","scale":{"domain":[13,15.5],"nice":false,"zero":false},"axis":null},
  "text":{"field":"t"}
 }}
],
"resolve":{"scale":{"x":"independent","y":"independent"},"axis":{"x":"independent","y":"independent"}}
}
